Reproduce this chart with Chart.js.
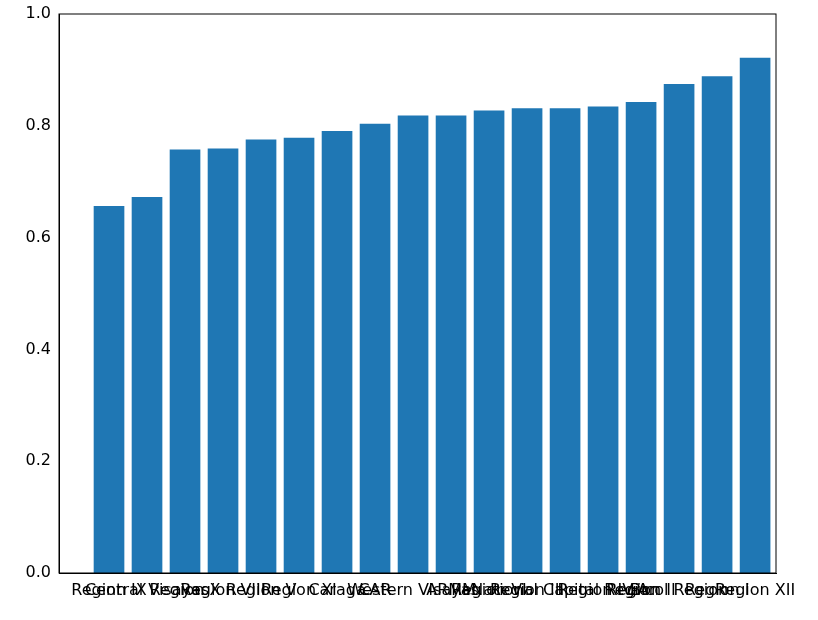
<!DOCTYPE html>
<html><head><meta charset="utf-8">
<script src="https://cdn.jsdelivr.net/npm/chart.js@4"></script>
<style>html,body{margin:0;background:#fff}#w{width:818px;height:620px}</style>
</head><body><div id="w"><canvas id="c"></canvas></div>
<script>
const categories = ["Region IX","Central Visayas","Region X","Region VIII","Region V","Region XI","Caraga","CAR","Western Visayas","ARMM","Region VI","Region III","National Capital Region","Region IV-A","Region II","Bicol Region","Region I","Region XII"];
const values = [0.656,0.672,0.757,0.759,0.775,0.778,0.790,0.803,0.818,0.818,0.827,0.831,0.831,0.834,0.842,0.874,0.888,0.921];
const yTicks = [0,0.2,0.4,0.6,0.8,1.0];
Chart.defaults.font.family = "DejaVu Sans";
Chart.defaults.font.size = 16;
Chart.defaults.color = "#000";
new Chart(document.getElementById('c'), {
  type: 'bar',
  data: { datasets: [{ data: values.map((v, i) => ({ x: i, y: v })), backgroundColor: '#1f77b4', barThickness: 30 }] },
  options: {
    responsive: true, maintainAspectRatio: false, animation: false,
    layout: { padding: { left: 0, right: 42, top: 14, bottom: 2 } },
    plugins: { legend: { display: false }, tooltip: { enabled: false } },
    scales: {
      x: { type: 'linear', min: -1.316, max: 17.55, offset: false, grid: { display: false, tickLength: 5 }, border: { color: '#000' },
           afterBuildTicks: s => { s.ticks = categories.map((c, i) => ({ value: i })); },
           ticks: { autoSkip: false, maxRotation: 0, minRotation: 0, color: '#000', callback: v => categories[v] },
           afterFit: s => { s.height = 45; } },
      y: { min: 0, max: 1, grid: { display: false, tickLength: 5 }, border: { color: '#000' },
           afterBuildTicks: s => { s.ticks = yTicks.map(v => ({ value: v })); },
           ticks: { callback: v => v.toFixed(1), color: '#000' },
           afterFit: s => { s.width = 59; } }
    }
  },
  plugins: [{ id: 'frame', afterDraw(ch) { const a = ch.chartArea, c = ch.ctx; c.save(); c.strokeStyle = '#000'; c.lineWidth = 1; c.strokeRect(a.left, a.top, a.right - a.left, a.bottom - a.top); c.restore(); } }]
});
</script></body></html>
